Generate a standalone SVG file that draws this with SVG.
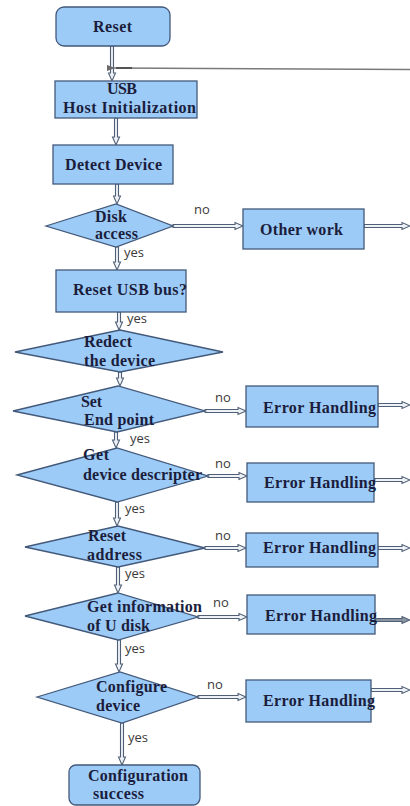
<svg xmlns="http://www.w3.org/2000/svg" width="410" height="806" viewBox="0 0 410 806">
  <style>
    .box { fill: #9dcbf7; stroke: #42597a; stroke-width: 1.3; }
    .lbl { font-family: "Liberation Serif", "Times New Roman", serif; font-weight: bold; font-size: 16px; fill: #1b1d3c; }
    .yn { font-family: "Open Sans", "DejaVu Sans", sans-serif; font-size: 13px; fill: #3a3a3a; }
    .arw { fill: #eef2f7; stroke: #4f5f75; stroke-width: 1.1; stroke-linejoin: miter; }
    .ret { fill: none; stroke: #7a7a7a; stroke-width: 1.4; }
  </style>
  <defs>
    <marker id="retHead" markerWidth="8" markerHeight="6" refX="1" refY="3" orient="auto" markerUnits="userSpaceOnUse">
      <path d="M8,0 L0,3 L8,6 Z" fill="#6a6a6a"/>
    </marker>
  </defs>
  <rect width="410" height="806" fill="#ffffff"/>

  <!-- connectors -->
  <g id="connectors">
    <!-- vertical flow arrows -->
    <polygon class="arw" points="110.5,46 113.5,46 113.5,73 115.5,73 112,81 108.5,73 110.5,73"/>
    <polygon class="arw" points="114.5,118 117.5,118 117.5,137 119.5,137 116,145 112.5,137 114.5,137"/>
    <polygon class="arw" points="115.5,184 118.5,184 118.5,196 120.5,196 117,204 113.5,196 115.5,196"/>
    <polygon class="arw" points="115.5,247 118.5,247 118.5,262 120.5,262 117,270 113.5,262 115.5,262"/>
    <polygon class="arw" points="117.5,312 120.5,312 120.5,322 122.5,322 119,330 115.5,322 117.5,322"/>
    <polygon class="arw" points="118.5,372 121.5,372 121.5,378 123.5,378 120,386 116.5,378 118.5,378"/>
    <polygon class="arw" points="114.5,432 117.5,432 117.5,440 119.5,440 116,448 112.5,440 114.5,440"/>
    <polygon class="arw" points="115.5,502 118.5,502 118.5,518 120.5,518 117,526 113.5,518 115.5,518"/>
    <polygon class="arw" points="116.5,567 119.5,567 119.5,585 121.5,585 118,593 114.5,585 116.5,585"/>
    <polygon class="arw" points="117.5,640 120.5,640 120.5,664 122.5,664 119,672 115.5,664 117.5,664"/>
    <polygon class="arw" points="120.5,723 123.5,723 123.5,757 125.5,757 122,765 118.5,757 120.5,757"/>

    <!-- "no" branches -->
    <polygon class="arw" points="173,224.5 235,224.5 235,222.5 243,226 235,229.5 235,227.5 173,227.5"/>
    <polygon class="arw" points="205,409.5 238,409.5 238,407.5 246,411 238,414.5 238,412.5 205,412.5"/>
    <polygon class="arw" points="208,474.5 239,474.5 239,472.5 247,476 239,479.5 239,477.5 208,477.5"/>
    <polygon class="arw" points="205,546.5 238,546.5 238,544.5 246,548 238,551.5 238,549.5 205,549.5"/>
    <polygon class="arw" points="198,615.5 239,615.5 239,613.5 247,617 239,620.5 239,618.5 198,618.5"/>
    <polygon class="arw" points="198,695.5 238,695.5 238,693.5 246,697 238,700.5 238,698.5 198,698.5"/>

    <!-- outgoing returns on the right -->
    <polygon class="arw" points="364,224.5 402,224.5 402,222.5 410,226 402,229.5 402,227.5 364,227.5"/>
    <polygon class="arw" points="378,403.5 402,403.5 402,401.5 410,405 402,408.5 402,406.5 378,406.5"/>
    <polygon class="arw" points="374,478.5 402,478.5 402,476.5 410,480 402,483.5 402,481.5 374,481.5"/>
    <polygon class="arw" points="378,546.5 402,546.5 402,544.5 410,548 402,551.5 402,549.5 378,549.5"/>
    <polygon class="arw" points="375,618.5 402,618.5 402,616.5 410,620 402,623.5 402,621.5 375,621.5" style="fill:#8a93a0"/>
    <polygon class="arw" points="371,688.5 402,688.5 402,686.5 410,690 402,693.5 402,691.5 371,691.5"/>

    <!-- return line into the initialization path -->
    <line class="ret" x1="410" y1="69.5" x2="114" y2="68" marker-end="url(#retHead)"/>
    <line x1="116" y1="68" x2="132" y2="68" stroke="#555" stroke-width="2"/>
  </g>

  <g id="reset">
    <rect class="box" x="56" y="7" width="114" height="39" rx="8"/>
    <text class="lbl" x="93" y="32" textLength="39" lengthAdjust="spacing">Reset</text>
  </g>

  <g id="usb-init">
    <rect class="box" x="55" y="81" width="142" height="37"/>
    <text class="lbl" x="107" y="94" textLength="30" lengthAdjust="spacing">USB</text>
    <text class="lbl" x="63" y="113" textLength="133" lengthAdjust="spacing">Host Initialization</text>
  </g>

  <g id="detect-device">
    <rect class="box" x="53" y="145" width="120" height="39"/>
    <text class="lbl" x="65" y="170" textLength="97" lengthAdjust="spacing">Detect Device</text>
  </g>

  <g id="disk-access">
    <polygon class="box" points="46,226 116,204 173,226 116,247"/>
    <text class="lbl" x="95" y="222" textLength="32" lengthAdjust="spacing">Disk</text>
    <text class="lbl" x="95" y="239" textLength="43" lengthAdjust="spacing">access</text>
    <text class="yn" x="194" y="214">no</text>
    <text class="yn" x="124" y="257">yes</text>
  </g>

  <g id="other-work">
    <rect class="box" x="243" y="209" width="121" height="40"/>
    <text class="lbl" x="260" y="235" textLength="83" lengthAdjust="spacing">Other work</text>
  </g>

  <g id="reset-usb-bus">
    <rect class="box" x="56" y="270" width="130" height="42"/>
    <text class="lbl" x="73" y="295" textLength="114" lengthAdjust="spacing">Reset USB bus?</text>
    <text class="yn" x="127" y="323">yes</text>
  </g>

  <g id="redetect">
    <polygon class="box" points="15,352 120,330 223,352 120,372"/>
    <text class="lbl" x="84" y="347" textLength="48" lengthAdjust="spacing">Redect</text>
    <text class="lbl" x="84" y="366" textLength="71" lengthAdjust="spacing">the device</text>
  </g>

  <g id="set-endpoint">
    <polygon class="box" points="13,411 118,386 205,411 117,432"/>
    <text class="lbl" x="81" y="407" textLength="21" lengthAdjust="spacing">Set</text>
    <text class="lbl" x="84" y="425" textLength="70" lengthAdjust="spacing">End point</text>
    <text class="yn" x="215" y="402">no</text>
    <text class="yn" x="130" y="443">yes</text>
  </g>

  <g id="error-1">
    <rect class="box" x="246" y="386" width="132" height="41"/>
    <text class="lbl" x="263" y="413" textLength="113" lengthAdjust="spacing">Error Handling</text>
  </g>

  <g id="get-descriptor">
    <polygon class="box" points="17,475 117,448 208,476 117,502"/>
    <text class="lbl" x="83" y="460" textLength="26" lengthAdjust="spacing">Get</text>
    <text class="lbl" x="83" y="480" textLength="119" lengthAdjust="spacing">device descripter</text>
    <text class="yn" x="215" y="468">no</text>
    <text class="yn" x="125" y="513">yes</text>
  </g>

  <g id="error-2">
    <rect class="box" x="247" y="463" width="127" height="39"/>
    <text class="lbl" x="264" y="488" textLength="112" lengthAdjust="spacing">Error Handling</text>
  </g>

  <g id="reset-address">
    <polygon class="box" points="25,547 118,526 205,548 118,567"/>
    <text class="lbl" x="88" y="541" textLength="38" lengthAdjust="spacing">Reset</text>
    <text class="lbl" x="87" y="560" textLength="55" lengthAdjust="spacing">address</text>
    <text class="yn" x="215" y="540">no</text>
    <text class="yn" x="125" y="578">yes</text>
  </g>

  <g id="error-3">
    <rect class="box" x="246" y="533" width="132" height="34"/>
    <text class="lbl" x="263" y="553" textLength="113" lengthAdjust="spacing">Error Handling</text>
  </g>

  <g id="get-disk-info">
    <polygon class="box" points="25,616 118,593 198,617 118,640"/>
    <text class="lbl" x="87" y="612" textLength="115" lengthAdjust="spacing">Get information</text>
    <text class="lbl" x="87" y="631" textLength="63" lengthAdjust="spacing">of U disk</text>
    <text class="yn" x="213" y="607">no</text>
    <text class="yn" x="125" y="653">yes</text>
  </g>

  <g id="error-4">
    <rect class="box" x="247" y="595" width="128" height="39"/>
    <text class="lbl" x="265" y="621" textLength="112" lengthAdjust="spacing">Error Handling</text>
  </g>

  <g id="configure-device">
    <polygon class="box" points="37,697 120,672 198,697 122,723"/>
    <text class="lbl" x="96" y="692" textLength="71" lengthAdjust="spacing">Configure</text>
    <text class="lbl" x="96" y="711" textLength="44" lengthAdjust="spacing">device</text>
    <text class="yn" x="207" y="689">no</text>
    <text class="yn" x="128" y="742">yes</text>
  </g>

  <g id="error-5">
    <rect class="box" x="246" y="680" width="125" height="42"/>
    <text class="lbl" x="263" y="706" textLength="112" lengthAdjust="spacing">Error Handling</text>
  </g>

  <g id="config-success">
    <rect class="box" x="69" y="765" width="131" height="40" rx="7"/>
    <text class="lbl" x="88" y="781" textLength="100" lengthAdjust="spacing">Configuration</text>
    <text class="lbl" x="93" y="799" textLength="51" lengthAdjust="spacing">success</text>
  </g>
</svg>
